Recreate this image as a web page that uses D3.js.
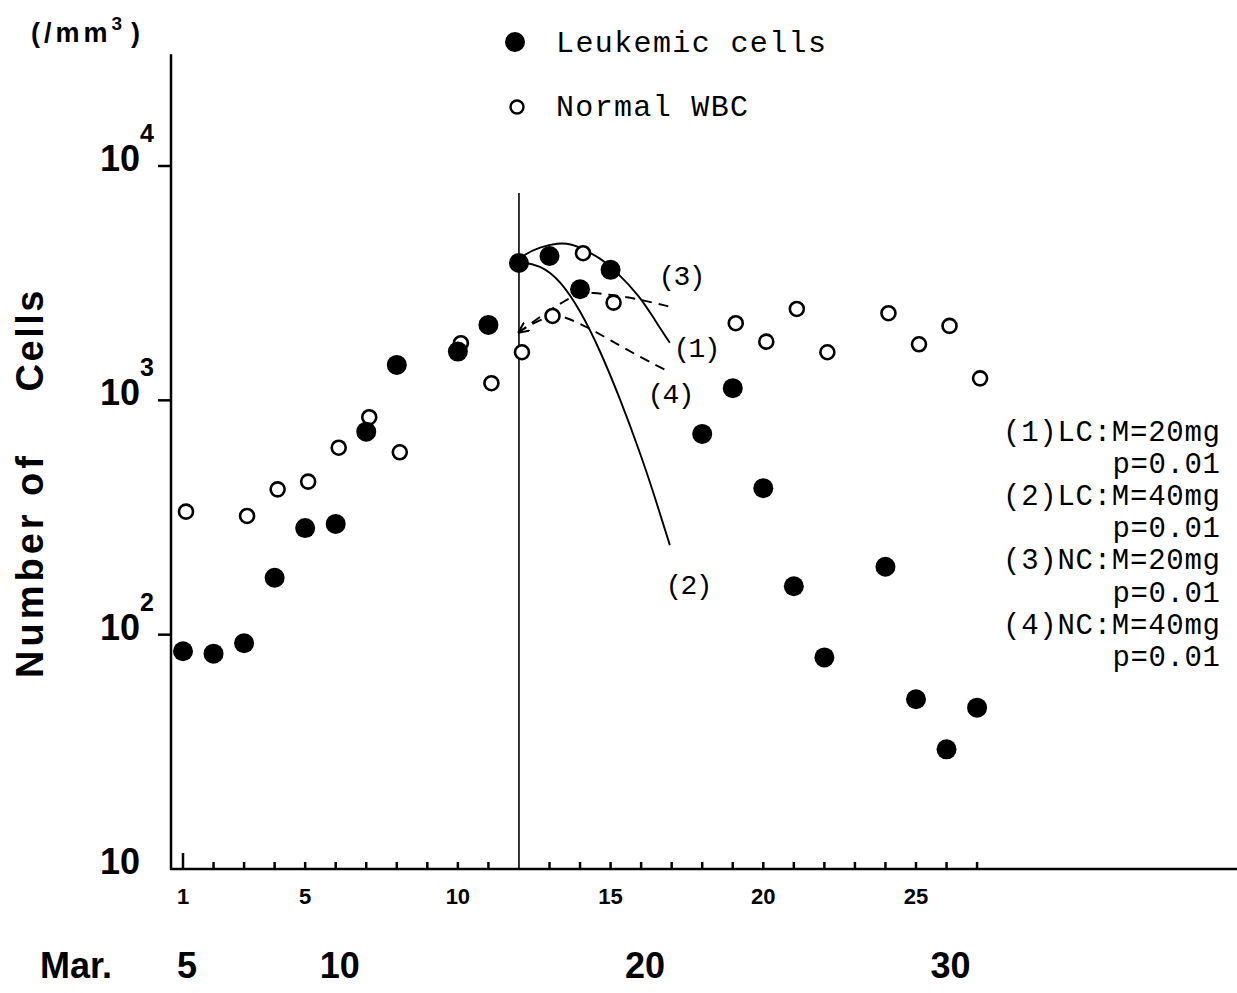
<!DOCTYPE html>
<html>
<head>
<meta charset="utf-8">
<script src="https://cdn.jsdelivr.net/npm/d3@7"></script>
<style>
  html, body { margin: 0; padding: 0; background: #fff; }
  svg { display: block; }
</style>
</head>
<body>
<div id="chart"></div>
<script>
// ---------------- DATA ----------------
const lcDays   = [1, 2, 3, 4, 5, 6, 7, 8, 10, 11, 12, 13, 14, 15, 18, 19, 20, 21, 22, 24, 25, 26, 27];
const lcValues = [85, 83, 92, 175, 285, 297, 735, 1416, 1614, 2099, 3857, 4130, 2980, 3605, 719, 1127, 422, 161, 80, 195, 53, 32.4, 48.8];

const wbcDays   = [1, 3, 4, 5, 6, 7, 8, 10, 11, 12, 13, 14, 15, 19, 20, 21, 22, 24, 25, 26, 27];
const wbcValues = [335, 321, 417, 450, 628, 847, 600, 1753, 1183, 1604, 2291, 4245, 2612, 2133, 1780, 2455, 1604, 2354, 1734, 2078, 1241];

// fitted model curves
const curve1Days   = [11.9, 12.13, 12.69, 13.27, 13.73, 14.16, 14.65, 15.14, 15.96, 16.45, 16.94];
const curve1Values = [3860, 4170, 4510, 4700, 4650, 4380, 4050, 3600, 2780, 2200, 1760];
const curve2Days   = [11.95, 12.03, 12.69, 13.34, 14.0, 14.65, 15.30, 15.96, 16.45, 16.94];
const curve2Values = [3880, 3897, 3784, 3266, 2432, 1641, 1024, 602, 387, 241];
const curve3Days   = [11.97, 12.46, 13.01, 13.44, 14.0, 14.42, 14.98, 15.73, 16.94];
const curve3Values = [1940, 2160, 2430, 2630, 2880, 2880, 2820, 2740, 2510];
const curve4Days   = [11.97, 12.36, 12.91, 13.34, 13.57, 14.22, 14.98, 15.96, 16.94];
const curve4Values = [1940, 2100, 2270, 2290, 2250, 2060, 1810, 1530, 1320];

const curveNames  = ["(1)", "(2)", "(3)", "(4)"];
const treatmentDay = 12;

const xTickDays    = [1, 5, 10, 15, 20, 25];
const xMinorDays   = [1, 2, 3, 4, 5, 6, 7, 8, 9, 10, 11, 13, 14, 15, 16, 17, 18, 19, 20, 21, 22, 23, 24, 25, 26, 27];
const marchDates   = [5, 10, 20, 30];
const marchDayOffset = 4;            // Mar. 5 = day 1
const yTickExps    = [1, 2, 3, 4];   // 10, 10^2, 10^3, 10^4

const legendLabels = ["Leukemic cells", "Normal WBC"];
const noteLines = ["(1)LC:M=20mg", "p=0.01", "(2)LC:M=40mg", "p=0.01",
                   "(3)NC:M=20mg", "p=0.01", "(4)NC:M=40mg", "p=0.01"];

// ---------------- SETUP ----------------
const W = 1237, H = 993;
const svg = d3.select("#chart").append("svg")
  .attr("width", W).attr("height", H)
  .attr("viewBox", `0 0 ${W} ${H}`);
svg.append("rect").attr("width", W).attr("height", H).attr("fill", "#fff");

const SANS = "'Liberation Sans', Arial, Helvetica, sans-serif";
const MONO = "'Liberation Mono', 'Courier New', monospace";

const x = d3.scaleLinear().domain([1, 25]).range([183, 916]);
const y = d3.scaleLog().domain([10, 10000]).range([869, 166]);
const axisX = 171;
const yTopValue = 30000;

// defs: arrow marker
const defs = svg.append("defs");
defs.append("marker")
  .attr("id", "arrow")
  .attr("viewBox", "0 0 10 10")
  .attr("refX", 10).attr("refY", 5)
  .attr("markerWidth", 11).attr("markerHeight", 11)
  .attr("markerUnits", "userSpaceOnUse")
  .attr("orient", "auto-start-reverse")
  .append("path")
  .attr("d", "M0,0.5 L10,5 L0,9.5")
  .attr("fill", "none").attr("stroke", "#000").attr("stroke-width", 1.8);

// ---------------- AXES ----------------
const g = svg.append("g");

// y axis line
g.append("line")
  .attr("x1", axisX).attr("x2", axisX)
  .attr("y1", y(yTopValue)).attr("y2", y(10) + 1)
  .attr("stroke", "#000").attr("stroke-width", 2.5);

// x axis line
g.append("line")
  .attr("x1", axisX - 1).attr("x2", W)
  .attr("y1", y(10)).attr("y2", y(10))
  .attr("stroke", "#000").attr("stroke-width", 2.5);

// y ticks (left)
g.selectAll(".ytick").data(yTickExps.filter(e => e > 1)).enter()
  .append("line")
  .attr("x1", axisX - 13).attr("x2", axisX)
  .attr("y1", e => y(Math.pow(10, e))).attr("y2", e => y(Math.pow(10, e)))
  .attr("stroke", "#000").attr("stroke-width", 2.5);

// y tick labels with superscripts
const ylab = g.selectAll(".ylab").data(yTickExps).enter().append("g");
ylab.append("text")
  .attr("x", 140)
  .attr("y", e => y(Math.pow(10, e)) + 5)
  .attr("text-anchor", "end")
  .attr("font-family", SANS).attr("font-weight", "bold").attr("font-size", 36)
  .text("10");
ylab.filter(e => e > 1).append("text")
  .attr("x", 140)
  .attr("y", e => y(Math.pow(10, e)) - 24)
  .attr("font-family", SANS).attr("font-weight", "bold").attr("font-size", 25)
  .text(e => String(e));

// x ticks (upward, inside)
g.selectAll(".xtick").data(xMinorDays).enter()
  .append("line")
  .attr("x1", d => x(d)).attr("x2", d => x(d))
  .attr("y1", y(10)).attr("y2", d => y(10) - (d === 1 ? 16 : 7))
  .attr("stroke", "#000").attr("stroke-width", 2.5);

// x tick labels
g.selectAll(".xlab").data(xTickDays).enter()
  .append("text")
  .attr("x", d => x(d)).attr("y", 904)
  .attr("text-anchor", "middle")
  .attr("font-family", SANS).attr("font-weight", "bold").attr("font-size", 22)
  .text(d => d);

// March dates row
g.append("text")
  .attr("x", 40).attr("y", 978)
  .attr("font-family", SANS).attr("font-weight", "bold").attr("font-size", 36)
  .text("Mar.");
g.selectAll(".mlab").data(marchDates).enter()
  .append("text")
  .attr("x", d => x(d - marchDayOffset) + 4).attr("y", 978)
  .attr("text-anchor", "middle")
  .attr("font-family", SANS).attr("font-weight", "bold").attr("font-size", 36)
  .text(d => d);

// y axis title (rotated)
g.append("text")
  .attr("transform", "translate(43,567) rotate(-90)")
  .attr("text-anchor", "middle")
  .attr("font-family", SANS).attr("font-weight", "bold").attr("font-size", 38)
  .attr("textLength", 222).attr("lengthAdjust", "spacing")
  .text("Number of");
g.append("text")
  .attr("transform", "translate(43,341) rotate(-90)")
  .attr("text-anchor", "middle")
  .attr("font-family", SANS).attr("font-weight", "bold").attr("font-size", 38)
  .attr("textLength", 101).attr("lengthAdjust", "spacing")
  .text("Cells");

// unit label
const unit = g.append("text")
  .attr("x", 31).attr("y", 42)
  .attr("font-family", SANS).attr("font-weight", "bold").attr("font-size", 27)
  .attr("letter-spacing", 4);
unit.append("tspan").text("(/mm");
unit.append("tspan").attr("dy", -12).attr("font-size", 19).text("3");
unit.append("tspan").attr("dy", 12).attr("dx", 5).text(")");

// treatment vertical line
g.append("line")
  .attr("x1", x(treatmentDay)).attr("x2", x(treatmentDay))
  .attr("y1", 193).attr("y2", y(10))
  .attr("stroke", "#000").attr("stroke-width", 1.6);

// ---------------- CURVES ----------------
const line = d3.line()
  .x(d => x(d[0])).y(d => y(d[1]))
  .curve(d3.curveBasis);

const curves = [
  { days: curve1Days, vals: curve1Values, dash: null },
  { days: curve2Days, vals: curve2Values, dash: null },
  { days: curve3Days, vals: curve3Values, dash: "10,7", arrow: true },
  { days: curve4Days, vals: curve4Values, dash: "10,7" }
];
curves.forEach(c => {
  const p = g.append("path")
    .datum(c.days.map((d, i) => [d, c.vals[i]]))
    .attr("d", line)
    .attr("fill", "none")
    .attr("stroke", "#000")
    .attr("stroke-width", 1.9);
  if (c.dash) p.attr("stroke-dasharray", c.dash);
  if (c.arrow) p.attr("marker-start", "url(#arrow)");
});

// curve labels
const curveLabelPos = [[697, 357], [689, 594], [682, 285], [671, 403]];
g.selectAll(".clab").data(curveNames).enter()
  .append("text")
  .attr("x", (d, i) => curveLabelPos[i][0])
  .attr("y", (d, i) => curveLabelPos[i][1])
  .attr("text-anchor", "middle")
  .attr("font-family", MONO).attr("font-size", 28)
  .attr("textLength", 47).attr("lengthAdjust", "spacing")
  .text(d => d);

// ---------------- POINTS ----------------
g.selectAll(".wbc").data(wbcDays.map((d, i) => [d, wbcValues[i]])).enter()
  .append("circle")
  .attr("cx", d => x(d[0]) + 3).attr("cy", d => y(d[1]))
  .attr("r", 7)
  .attr("fill", "#fff").attr("stroke", "#000").attr("stroke-width", 2.6);

g.selectAll(".lc").data(lcDays.map((d, i) => [d, lcValues[i]])).enter()
  .append("circle")
  .attr("cx", d => x(d[0])).attr("cy", d => y(d[1]))
  .attr("r", 10)
  .attr("fill", "#000");

// ---------------- LEGEND ----------------
g.append("circle").attr("cx", 515).attr("cy", 42).attr("r", 10).attr("fill", "#000");
g.append("circle").attr("cx", 517).attr("cy", 107).attr("r", 6.5)
  .attr("fill", "#fff").attr("stroke", "#000").attr("stroke-width", 2.4);
g.append("text")
  .attr("x", 556).attr("y", 52)
  .attr("font-family", MONO).attr("font-size", 30)
  .attr("textLength", 270).attr("lengthAdjust", "spacing")
  .text(legendLabels[0]);
g.append("text")
  .attr("x", 556).attr("y", 116)
  .attr("font-family", MONO).attr("font-size", 30)
  .attr("textLength", 192).attr("lengthAdjust", "spacing")
  .text(legendLabels[1]);

// ---------------- NOTES ----------------
const noteRight = 1222, charW = 18.25;
g.selectAll(".note").data(noteLines).enter()
  .append("text")
  .attr("x", d => noteRight - d.length * charW)
  .attr("y", (d, i) => 441 + i * 32.1)
  .attr("font-family", MONO).attr("font-size", 29)
  .attr("textLength", d => d.length * charW - 2).attr("lengthAdjust", "spacing")
  .text(d => d);
</script>
</body>
</html>
